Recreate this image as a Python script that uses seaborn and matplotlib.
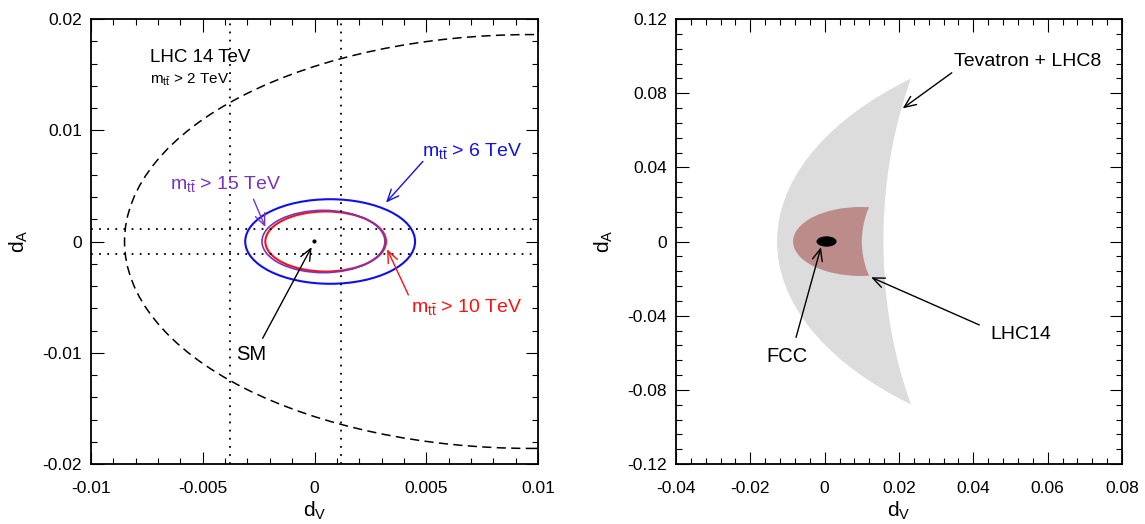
import numpy as np
import seaborn as sns
import matplotlib.pyplot as plt
from matplotlib.patches import Ellipse
from matplotlib.ticker import MultipleLocator

# ---- left panel: LHC 14 TeV bounds for several m_tt cuts (ellipses) ----
cut_tev = [2, 6, 10, 15]
cut_dv0 = [0.0097, 0.0007, 0.0005, 0.0004]     # ellipse centre in d_V
cut_a = [0.0182, 0.0038, 0.0027, 0.00275]      # semi axis along d_V
cut_b = [0.0186, 0.0038, 0.0027, 0.0028]       # semi axis along d_A

dotted_dv = [-0.0038, 0.0012]
dotted_da = [-0.0011, 0.0011]
sm_dv = [0.0]
sm_da = [0.0]

left_xticks = [-0.01, -0.005, 0, 0.005, 0.01]
left_xticklabels = ["-0.01", "-0.005", "0", "0.005", "0.01"]
left_yticks = [-0.02, -0.01, 0, 0.01, 0.02]
left_yticklabels = ["-0.02", "-0.01", "0", "0.01", "0.02"]

# ---- right panel: allowed regions (outer ellipse minus excluded ellipse) ----
tev_dv0 = [0.0967, 0.0708]
tev_a = [0.1095, 0.055]
tev_b = [0.1185, 0.175]
lhc14_dv0 = [0.0097, 0.0273]
lhc14_a = [0.0182, 0.0173]
lhc14_b = [0.0186, 0.04]
fcc_dv0 = [0.0005]
fcc_a = [0.0027]
fcc_b = [0.0028]

right_xticks = [-0.04, -0.02, 0, 0.02, 0.04, 0.06, 0.08]
right_xticklabels = ["-0.04", "-0.02", "0", "0.02", "0.04", "0.06", "0.08"]
right_yticks = [-0.12, -0.08, -0.04, 0, 0.04, 0.08, 0.12]
right_yticklabels = ["-0.12", "-0.08", "-0.04", "0", "0.04", "0.08", "0.12"]

sns.set_theme(style="white")
plt.rcParams["font.family"] = ["Liberation Sans", "DejaVu Sans"]
plt.rcParams["mathtext.fontset"] = "custom"
plt.rcParams["mathtext.rm"] = "Liberation Sans"
plt.rcParams["mathtext.it"] = "Liberation Sans"
plt.rcParams["axes.unicode_minus"] = False
for key in ["text.color", "axes.labelcolor", "xtick.color", "ytick.color"]:
    plt.rcParams[key] = "black"

fig = plt.figure(figsize=(11.45, 5.24), dpi=100)
ax1 = fig.add_axes([91 / 1145, 60 / 524, 447 / 1145, 445 / 524])
ax2 = fig.add_axes([676 / 1145, 60 / 524, 446 / 1145, 445 / 524])

purple = "#7434c4"
arrow = dict(arrowstyle="->,head_length=0.7,head_width=0.3", lw=1.0,
             shrinkA=0, shrinkB=0)


def mtt(cut):
    return r"m$_{t\bar{t}}$ > " + f"{cut} TeV"


# left panel
line_styles = [dict(edgecolor="black", lw=1.1, ls=(0, (6, 3.5))),
               dict(edgecolor="#1010ee", lw=1.5),
               dict(edgecolor="#ff1010", lw=1.5),
               dict(edgecolor=purple, lw=1.2)]
for i in [0, 1, 2, 3]:
    ax1.add_patch(Ellipse((cut_dv0[i], 0), 2 * cut_a[i], 2 * cut_b[i],
                          facecolor="none", **line_styles[i]))

for x in dotted_dv:
    ax1.axvline(x, color="black", lw=1.3, ls=(0, (1, 3.5)))
for y in dotted_da:
    ax1.axhline(y, color="black", lw=1.3, ls=(0, (1, 3.5)))

sns.scatterplot(x=sm_dv, y=sm_da, ax=ax1, color="black", s=9,
                edgecolor="none", zorder=5)

ax1.text(-0.00738, 0.0165, "LHC 14 TeV", fontsize=13.5, va="center")
ax1.text(-0.00738, 0.0145, mtt(cut_tev[0]), fontsize=11, va="center")

ax1.text(0.0048, 0.0081, mtt(cut_tev[1]), fontsize=14, color="#1010ee",
         va="center")
ax1.annotate("", xy=(0.0032, 0.0035), xytext=(0.00485, 0.0072),
             arrowprops=dict(color="#1010ee", **arrow))

ax1.text(-0.00647, 0.0052, mtt(cut_tev[3]), fontsize=14, color=purple,
         va="center")
ax1.annotate("", xy=(-0.0022, 0.0013), xytext=(-0.00273, 0.0038),
             arrowprops=dict(color=purple, **arrow))

ax1.text(0.0043, -0.0059, mtt(cut_tev[2]), fontsize=14, color="#ff1010",
         va="center")
ax1.annotate("", xy=(0.00325, -0.0007), xytext=(0.0042, -0.0048),
             arrowprops=dict(color="#ff1010", **arrow))

ax1.text(-0.00352, -0.0102, "SM", fontsize=14.5, va="center")
ax1.annotate("", xy=(-0.00013, -0.0005), xytext=(-0.00232, -0.0087),
             arrowprops=dict(color="black", **arrow))

ax1.set_xlim(-0.01, 0.01)
ax1.set_ylim(-0.02, 0.02)
ax1.set_xticks(left_xticks, left_xticklabels)
ax1.set_yticks(left_yticks, left_yticklabels)
ax1.xaxis.set_minor_locator(MultipleLocator(0.001))
ax1.yaxis.set_minor_locator(MultipleLocator(0.002))

# right panel
ax2.add_patch(Ellipse((tev_dv0[0], 0), 2 * tev_a[0], 2 * tev_b[0],
                      facecolor="#dcdcdc", edgecolor="none"))
ax2.add_patch(Ellipse((lhc14_dv0[0], 0), 2 * lhc14_a[0], 2 * lhc14_b[0],
                      facecolor="#bc8c8a", edgecolor="none"))
ax2.add_patch(Ellipse((lhc14_dv0[1], 0), 2 * lhc14_a[1], 2 * lhc14_b[1],
                      facecolor="#dcdcdc", edgecolor="none"))
ax2.add_patch(Ellipse((tev_dv0[1], 0), 2 * tev_a[1], 2 * tev_b[1],
                      facecolor="white", edgecolor="none"))
ax2.add_patch(Ellipse((fcc_dv0[0], 0), 2 * fcc_a[0], 2 * fcc_b[0],
                      facecolor="black", edgecolor="none"))

ax2.text(0.0349, 0.097, "Tevatron + LHC8", fontsize=14, va="center")
ax2.annotate("", xy=(0.021, 0.0718), xytext=(0.0342, 0.091),
             arrowprops=dict(color="black", **arrow))
ax2.text(0.0447, -0.050, "LHC14", fontsize=14, va="center")
ax2.annotate("", xy=(0.0125, -0.0193), xytext=(0.0416, -0.045),
             arrowprops=dict(color="black", **arrow))
ax2.text(-0.0158, -0.0618, "FCC", fontsize=14.5, va="center")
ax2.annotate("", xy=(-0.001, -0.0031), xytext=(-0.0077, -0.0517),
             arrowprops=dict(color="black", **arrow))

ax2.set_xlim(-0.04, 0.08)
ax2.set_ylim(-0.12, 0.12)
ax2.set_xticks(right_xticks, right_xticklabels)
ax2.set_yticks(right_yticks, right_yticklabels)
ax2.xaxis.set_minor_locator(MultipleLocator(0.004))
ax2.yaxis.set_minor_locator(MultipleLocator(0.008))

for ax in (ax1, ax2):
    ax.set_axisbelow(False)
    ax.tick_params(which="both", direction="in", top=True, right=True,
                   bottom=True, left=True, width=0.8, color="black")
    ax.tick_params(which="major", length=9, labelsize=12.5)
    ax.tick_params(which="minor", length=4.5)
    ax.tick_params(axis="x", which="major", pad=12)
    ax.tick_params(axis="y", which="major", pad=6.5)
    for s in ax.spines.values():
        s.set_linewidth(1.3)
        s.set_color("black")
    ax.set_xlabel(r"d$_{\mathrm{V}}$", fontsize=15, labelpad=3)
    ax.set_ylabel(r"d$_{\mathrm{A}}$", fontsize=15, labelpad=9)

plt.savefig("out.png", dpi=100)
